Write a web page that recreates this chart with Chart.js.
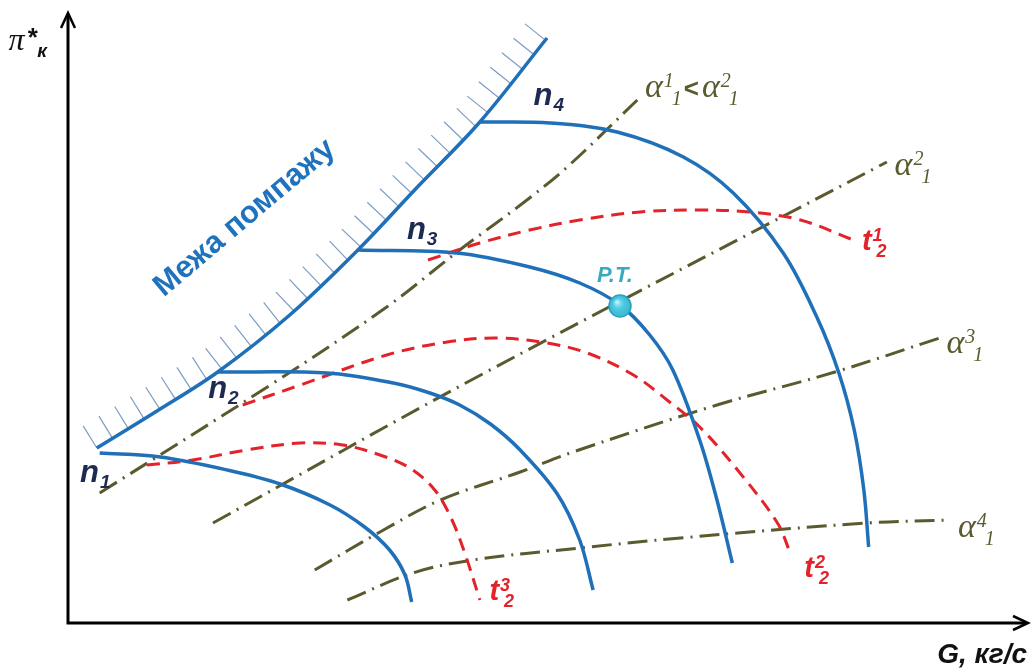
<!DOCTYPE html>
<html>
<head>
<meta charset="utf-8">
<script src="https://cdn.jsdelivr.net/npm/chart.js@4.4.1/dist/chart.umd.min.js"></script>
<style>
  body { margin: 0; background: #fff; }
</style>
</head>
<body>
<canvas id="map" width="1033" height="672"></canvas>
<script>
// Compressor map: flow G (kg/s) against pressure ratio pi*k

// surge line
const surgeG = [0.30, 0.91, 1.56, 2.31, 3.02, 3.64, 4.29, 4.99];
const surgeP = [1.75, 2.11, 2.51, 3.08, 3.73, 4.36, 5.01, 5.85];

// constant speed lines n1..n4
const n1G = [0.33, 0.96, 1.66, 2.21, 2.73, 3.09, 3.35, 3.51, 3.58];
const n1P = [1.70, 1.66, 1.53, 1.39, 1.18, 0.96, 0.73, 0.48, 0.21];
const n2G = [1.56, 2.70, 3.39, 3.77, 4.08, 4.40, 4.71, 5.09, 5.33, 5.47];
const n2P = [2.51, 2.50, 2.40, 2.30, 2.18, 1.99, 1.73, 1.30, 0.83, 0.33];
const n3G = [3.02, 4.05, 4.81, 5.33, 5.75, 6.06, 6.30, 6.58, 6.76, 6.92];
const n3P = [3.73, 3.70, 3.56, 3.40, 3.18, 2.88, 2.53, 1.83, 1.23, 0.60];
const n4G = [4.29, 5.02, 5.72, 6.41, 6.93, 7.45, 7.80, 8.03, 8.19, 8.29, 8.34];
const n4P = [5.01, 5.00, 4.91, 4.66, 4.30, 3.70, 3.06, 2.50, 1.93, 1.33, 0.76];

// constant temperature lines t2
const t1G = [3.75, 4.29, 4.81, 5.33, 5.96, 6.58, 7.10, 7.63, 8.18];
const t1P = [3.63, 3.80, 3.93, 4.03, 4.11, 4.13, 4.11, 4.03, 3.83];
const t2G = [1.82, 2.42, 3.32, 3.95, 4.47, 4.99, 5.41, 5.89, 6.24, 6.58, 7.00, 7.39, 7.52];
const t2P = [2.18, 2.38, 2.68, 2.81, 2.85, 2.80, 2.70, 2.48, 2.23, 1.96, 1.50, 1.00, 0.71];
const t3G = [0.82, 1.30, 1.86, 2.42, 2.86, 3.25, 3.56, 3.82, 4.00, 4.14, 4.29];
const t3P = [1.58, 1.63, 1.73, 1.80, 1.78, 1.68, 1.55, 1.33, 1.03, 0.68, 0.23];

// constant inlet angle lines alpha1
const a1G = [0.33, 2.14, 3.32, 4.08, 4.74, 5.20, 5.93];
const a1P = [1.30, 2.40, 3.16, 3.73, 4.20, 4.56, 5.23];
const a2G = [1.51, 4.26, 8.53];
const a2P = [1.00, 2.46, 4.61];
const a3G = [2.57, 3.25, 3.88, 4.71, 5.26, 6.76, 7.99, 9.08];
const a3P = [0.53, 0.91, 1.23, 1.51, 1.71, 2.18, 2.51, 2.85];
const a4G = [2.91, 3.59, 4.22, 5.33, 6.38, 8.32, 9.16];
const a4P = [0.23, 0.50, 0.63, 0.75, 0.85, 1.00, 1.03];

// operating point
const opG = [5.75];
const opP = [3.17];

const BLUE = "#1f70b8";
const RED = "#e3222a";
const OLIVE = "#5a5a2e";

const pts = (g, p) => g.map((x, i) => ({ x, y: p[i] }));

const line = (label, g, p, color, width, dash) => ({
  label,
  data: pts(g, p),
  showLine: true,
  borderColor: color,
  borderWidth: width,
  borderDash: dash || [],
  pointRadius: 0,
  tension: 0.35,
  fill: false,
});

// text annotations, anchored in data units
const fontSans = "'Liberation Sans', Arial, sans-serif";
const fontSerif = "'Liberation Serif', 'Times New Roman', serif";
const styles = {
  n: { color: "#1d2b52", base: `italic bold 31px ${fontSans}`, small: `italic bold 19px ${fontSans}`, up: 0, down: 6, shift: 0 },
  t: { color: RED, base: `italic bold 29px ${fontSans}`, small: `italic bold 18px ${fontSans}`, up: 9, down: 7, shift: 4 },
  a: { color: OLIVE, base: `italic 34px ${fontSerif}`, small: `italic 20px ${fontSerif}`, up: 10, down: 8, shift: 8 },
};
const labels = [
  { g: 0.125, p: 1.41, kind: "n", parts: [["n", null, "1"]] },
  { g: 1.46, p: 2.25, kind: "n", parts: [["n", null, "2"]] },
  { g: 3.53, p: 3.84, kind: "n", parts: [["n", null, "3"]] },
  { g: 4.85, p: 5.18, kind: "n", parts: [["n", null, "4"]] },
  { g: 8.27, p: 3.73, kind: "t", parts: [["t", "1", "2"]] },
  { g: 7.67, p: 0.46, kind: "t", parts: [["t", "2", "2"]] },
  { g: 4.39, p: 0.23, kind: "t", parts: [["t", "3", "2"]] },
  { g: 6.01, p: 5.26, kind: "a", parts: [["α", "1", "1"], ["<", null, null], ["α", "2", "1"]] },
  { g: 8.61, p: 4.48, kind: "a", parts: [["α", "2", "1"]] },
  { g: 9.15, p: 2.70, kind: "a", parts: [["α", "3", "1"]] },
  { g: 9.27, p: 0.86, kind: "a", parts: [["α", "4", "1"]] },
];

function drawIndexed(ctx, x, y, parts, st) {
  let cx = x;
  parts.forEach(([base, sup, sub]) => {
    ctx.font = base === "<" ? `bold 26px ${fontSans}` : st.base;
    ctx.fillText(base, cx, y);
    cx += ctx.measureText(base).width + 1;
    ctx.font = st.small;
    let w = 0;
    if (sup) {
      ctx.fillText(sup, cx, y - st.up);
      w = ctx.measureText(sup).width;
    }
    if (sub) {
      const sx = cx + (sup ? st.shift : 0);
      ctx.fillText(sub, sx, y + st.down);
      w = Math.max(w, sx - cx + ctx.measureText(sub).width);
    }
    cx += w + 2;
  });
}

function arrowHead(ctx, x, y, dx, dy) {
  const len = 15, half = 7;
  const px = -dy, py = dx;
  ctx.beginPath();
  ctx.moveTo(x - dx * len + px * half, y - dy * len + py * half);
  ctx.lineTo(x, y);
  ctx.lineTo(x - dx * len - px * half, y - dy * len - py * half);
  ctx.stroke();
}

const decor = {
  id: "decor",
  beforeDatasetsDraw(chart) {
    const { ctx } = chart;
    const idx = chart.data.datasets.findIndex((d) => d.label === "surge");
    const p = chart.getDatasetMeta(idx).data.map((el) => ({ x: el.x, y: el.y }));
    // hatching on the unstable side of the surge line
    ctx.save();
    ctx.strokeStyle = "#7d9cc4";
    ctx.lineWidth = 1.2;
    ctx.beginPath();
    let acc = 0;
    const step = 18.5, hl = 26;
    for (let i = 0; i < p.length - 1; i++) {
      const dx = p[i + 1].x - p[i].x, dy = p[i + 1].y - p[i].y;
      const len = Math.hypot(dx, dy);
      const nx = dy / len, ny = -dx / len;
      while (acc <= len) {
        const hx = p[i].x + (dx * acc) / len, hy = p[i].y + (dy * acc) / len;
        ctx.moveTo(hx, hy);
        ctx.lineTo(hx + nx * hl, hy + ny * hl);
        acc += step;
      }
      acc -= len;
    }
    ctx.stroke();
    ctx.restore();
  },
  afterDatasetsDraw(chart) {
    const { ctx, scales: { x, y } } = chart;
    ctx.save();

    // shine on the operating point
    const op = chart.getDatasetMeta(0).data[0];
    const gr = ctx.createRadialGradient(op.x - 3, op.y - 4, 1, op.x, op.y, 11);
    gr.addColorStop(0, "rgba(200,245,255,0.9)");
    gr.addColorStop(0.5, "rgba(90,210,230,0.3)");
    gr.addColorStop(1, "rgba(30,150,180,0.25)");
    ctx.fillStyle = gr;
    ctx.beginPath();
    ctx.arc(op.x, op.y, 10.5, 0, Math.PI * 2);
    ctx.fill();

    // axes
    const ox = x.getPixelForValue(0), oy = y.getPixelForValue(0);
    const xEnd = x.getPixelForValue(10), yEnd = y.getPixelForValue(6.1);
    ctx.strokeStyle = "#000";
    ctx.lineWidth = 3;
    ctx.lineCap = "butt";
    ctx.beginPath();
    ctx.moveTo(ox, yEnd + 2);
    ctx.lineTo(ox, oy);
    ctx.lineTo(xEnd - 2, oy);
    ctx.stroke();
    ctx.lineWidth = 2.5;
    arrowHead(ctx, xEnd, oy, 1, 0);
    arrowHead(ctx, ox, yEnd, 0, -1);

    ctx.textBaseline = "alphabetic";
    ctx.textAlign = "left";

    // axis titles
    ctx.fillStyle = "#111";
    ctx.font = `italic 32px ${fontSerif}`;
    ctx.fillText("π", x.getPixelForValue(-0.62), y.getPixelForValue(5.73));
    ctx.font = `bold 26px ${fontSans}`;
    ctx.fillText("*", x.getPixelForValue(-0.42), y.getPixelForValue(5.77));
    ctx.font = `italic bold 19px ${fontSans}`;
    ctx.fillText("к", x.getPixelForValue(-0.32), y.getPixelForValue(5.66));

    ctx.textAlign = "right";
    ctx.font = `italic bold 28px ${fontSans}`;
    ctx.fillText("G, кг/с", x.getPixelForValue(9.99), y.getPixelForValue(-0.40));
    ctx.textAlign = "left";

    // surge boundary caption
    ctx.save();
    ctx.translate(x.getPixelForValue(1.84), y.getPixelForValue(4.05));
    ctx.rotate(-0.70);
    ctx.fillStyle = "#1f73be";
    ctx.font = `bold 31px ${fontSans}`;
    ctx.textAlign = "center";
    ctx.textBaseline = "middle";
    ctx.fillText("Межа помпажу", 0, 0);
    ctx.restore();

    labels.forEach((l) => {
      const st = styles[l.kind];
      ctx.fillStyle = st.color;
      drawIndexed(ctx, x.getPixelForValue(l.g), y.getPixelForValue(l.p), l.parts, st);
    });

    // operating point caption
    ctx.fillStyle = "#3aa9c0";
    ctx.font = `italic bold 22px ${fontSans}`;
    ctx.fillText("P.T.", x.getPixelForValue(5.51), y.getPixelForValue(3.41));
    ctx.restore();
  },
};

new Chart(document.getElementById("map"), {
  type: "scatter",
  data: {
    datasets: [
      {
        label: "op",
        data: pts(opG, opP),
        pointRadius: 11,
        pointBackgroundColor: "#45c3dc",
        pointBorderColor: "#2aa2bf",
        pointBorderWidth: 1.5,
      },
      line("surge", surgeG, surgeP, BLUE, 3.5),
      line("n1", n1G, n1P, BLUE, 3.5),
      line("n2", n2G, n2P, BLUE, 3.5),
      line("n3", n3G, n3P, BLUE, 3.5),
      line("n4", n4G, n4P, BLUE, 3.5),
      line("t1", t1G, t1P, RED, 3, [13, 8]),
      line("t2", t2G, t2P, RED, 3, [13, 8]),
      line("t3", t3G, t3P, RED, 3, [13, 8]),
      line("a1", a1G, a1P, OLIVE, 3, [20, 7, 2, 7]),
      line("a2", a2G, a2P, OLIVE, 3, [20, 7, 2, 7]),
      line("a3", a3G, a3P, OLIVE, 3, [20, 7, 2, 7]),
      line("a4", a4G, a4P, OLIVE, 3, [20, 7, 2, 7]),
    ],
  },
  options: {
    responsive: false,
    devicePixelRatio: 1,
    animation: false,
    layout: { padding: 0, autoPadding: false },
    plugins: { legend: { display: false }, tooltip: { enabled: false } },
    scales: {
      x: { type: "linear", min: -68 / 96, max: (1033 - 68) / 96, display: false },
      y: { type: "linear", min: (623 - 672) / 100, max: 6.23, display: false },
    },
  },
  plugins: [decor],
});
</script>
</body>
</html>
